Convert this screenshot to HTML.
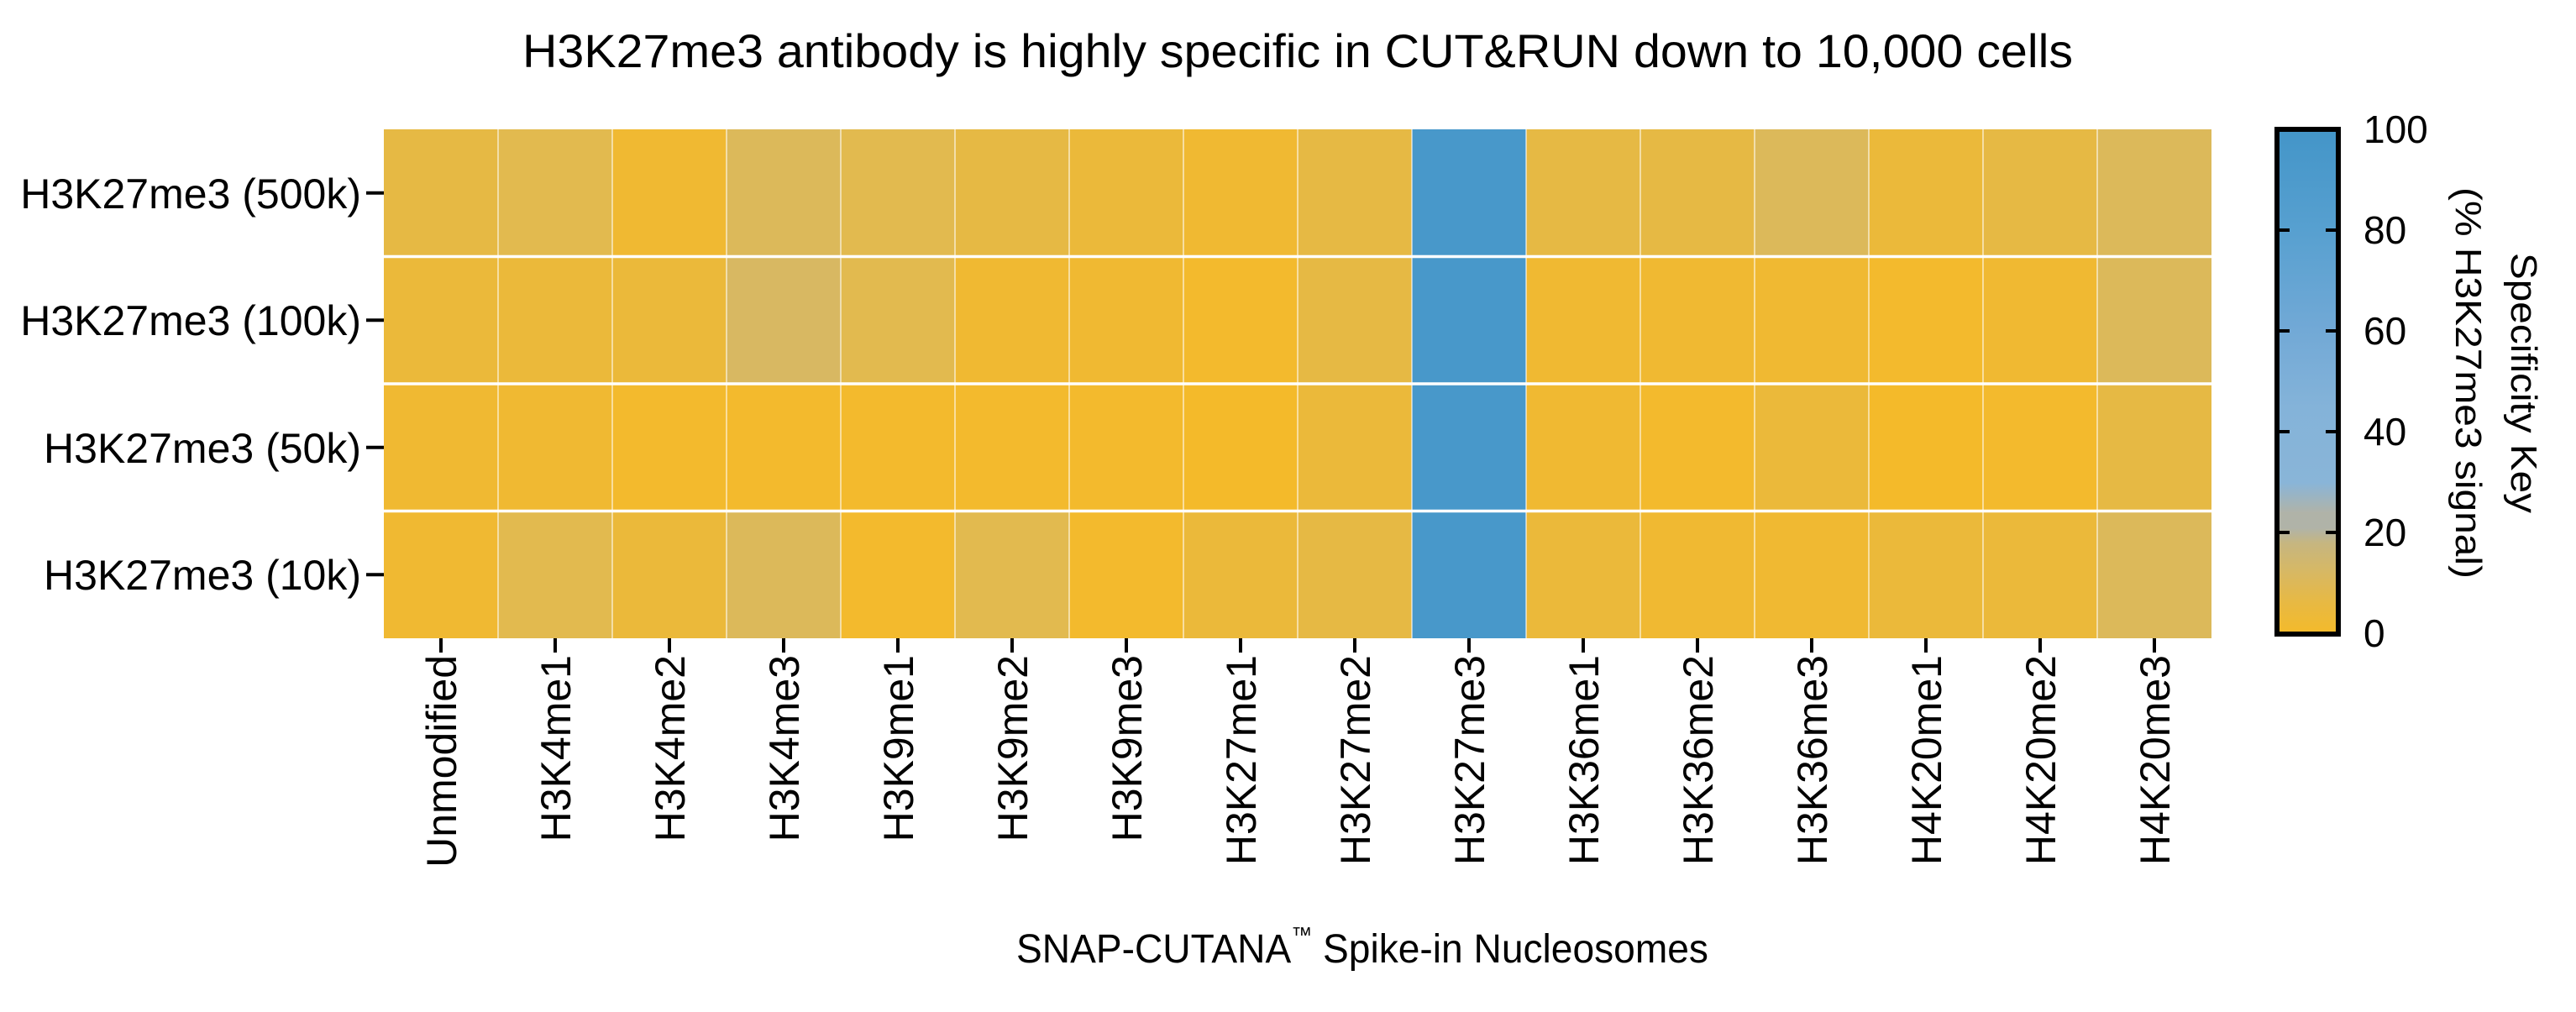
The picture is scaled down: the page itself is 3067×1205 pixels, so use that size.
<!DOCTYPE html>
<html><head><meta charset="utf-8"><style>html,body{margin:0;padding:0;background:#fff}svg{display:block}</style></head>
<body>
<svg width="3067" height="1205" viewBox="0 0 3067 1205" xmlns="http://www.w3.org/2000/svg" font-family="'Liberation Sans', sans-serif">
<defs>
<linearGradient id="cb" x1="0" y1="1" x2="0" y2="0">
<stop offset="0" stop-color="#f4ba2a"/>
<stop offset="0.06" stop-color="#e8b942"/>
<stop offset="0.12" stop-color="#d8b862"/>
<stop offset="0.18" stop-color="#c6b680"/>
<stop offset="0.21" stop-color="#b0b3a8"/>
<stop offset="0.24" stop-color="#b0b3a8"/>
<stop offset="0.30" stop-color="#89b5d8"/>
<stop offset="0.45" stop-color="#84b3d9"/>
<stop offset="0.60" stop-color="#72a9d6"/>
<stop offset="0.80" stop-color="#57a0d0"/>
<stop offset="1" stop-color="#4395c8"/>
</linearGradient>
</defs>
<text x="1545" y="80" font-size="56" text-anchor="middle" textLength="1846" lengthAdjust="spacingAndGlyphs">H3K27me3 antibody is highly specific in CUT&amp;RUN down to 10,000 cells</text>

<!-- row 0: DEBFEDCBDXDDFCDF -->
<g>
<rect x="457" y="154" width="136.5" height="152" fill="#e6b944"/>
<rect x="593" y="154" width="136.5" height="152" fill="#e2ba4f"/>
<rect x="729" y="154" width="136.5" height="152" fill="#f0b932"/>
<rect x="865" y="154" width="136.5" height="152" fill="#dcb95a"/>
<rect x="1001" y="154" width="136.5" height="152" fill="#e2ba4f"/>
<rect x="1137" y="154" width="136.5" height="152" fill="#e6b944"/>
<rect x="1273" y="154" width="136.5" height="152" fill="#ebb93a"/>
<rect x="1409" y="154" width="136.5" height="152" fill="#f0b932"/>
<rect x="1545" y="154" width="136.5" height="152" fill="#e6b944"/>
<rect x="1681" y="154" width="136.5" height="152" fill="#4898ca"/>
<rect x="1817" y="154" width="136.5" height="152" fill="#e6b944"/>
<rect x="1953" y="154" width="136.5" height="152" fill="#e6b944"/>
<rect x="2089" y="154" width="136.5" height="152" fill="#dcb95a"/>
<rect x="2225" y="154" width="136.5" height="152" fill="#ebb93a"/>
<rect x="2361" y="154" width="136.5" height="152" fill="#e6b944"/>
<rect x="2497" y="154" width="136" height="152" fill="#dcb95a"/>
</g>
<!-- row 1: CCCGEBBaDXBBBaBF -->
<g>
<rect x="457" y="305.5" width="136.5" height="152" fill="#ebb93a"/>
<rect x="593" y="305.5" width="136.5" height="152" fill="#ebb93a"/>
<rect x="729" y="305.5" width="136.5" height="152" fill="#ebb93a"/>
<rect x="865" y="305.5" width="136.5" height="152" fill="#d8b862"/>
<rect x="1001" y="305.5" width="136.5" height="152" fill="#e2ba4f"/>
<rect x="1137" y="305.5" width="136.5" height="152" fill="#f0b932"/>
<rect x="1273" y="305.5" width="136.5" height="152" fill="#f0b932"/>
<rect x="1409" y="305.5" width="136.5" height="152" fill="#f3ba2d"/>
<rect x="1545" y="305.5" width="136.5" height="152" fill="#e6b944"/>
<rect x="1681" y="305.5" width="136.5" height="152" fill="#4898ca"/>
<rect x="1817" y="305.5" width="136.5" height="152" fill="#f0b932"/>
<rect x="1953" y="305.5" width="136.5" height="152" fill="#f0b932"/>
<rect x="2089" y="305.5" width="136.5" height="152" fill="#f0b932"/>
<rect x="2225" y="305.5" width="136.5" height="152" fill="#f3ba2d"/>
<rect x="2361" y="305.5" width="136.5" height="152" fill="#f0b932"/>
<rect x="2497" y="305.5" width="136" height="152" fill="#dcb95a"/>
</g>
<!-- row 2: BBaaaaaACXBaCAaD -->
<g>
<rect x="457" y="457" width="136.5" height="152" fill="#f0b932"/>
<rect x="593" y="457" width="136.5" height="152" fill="#f0b932"/>
<rect x="729" y="457" width="136.5" height="152" fill="#f3ba2d"/>
<rect x="865" y="457" width="136.5" height="152" fill="#f3ba2d"/>
<rect x="1001" y="457" width="136.5" height="152" fill="#f3ba2d"/>
<rect x="1137" y="457" width="136.5" height="152" fill="#f3ba2d"/>
<rect x="1273" y="457" width="136.5" height="152" fill="#f3ba2d"/>
<rect x="1409" y="457" width="136.5" height="152" fill="#f4ba2a"/>
<rect x="1545" y="457" width="136.5" height="152" fill="#ebb93a"/>
<rect x="1681" y="457" width="136.5" height="152" fill="#4898ca"/>
<rect x="1817" y="457" width="136.5" height="152" fill="#f0b932"/>
<rect x="1953" y="457" width="136.5" height="152" fill="#f3ba2d"/>
<rect x="2089" y="457" width="136.5" height="152" fill="#ebb93a"/>
<rect x="2225" y="457" width="136.5" height="152" fill="#f4ba2a"/>
<rect x="2361" y="457" width="136.5" height="152" fill="#f3ba2d"/>
<rect x="2497" y="457" width="136" height="152" fill="#e6b944"/>
</g>
<!-- row 3: BECFaEaCDXCBBCCF -->
<g>
<rect x="457" y="608.5" width="136.5" height="151.5" fill="#f0b932"/>
<rect x="593" y="608.5" width="136.5" height="151.5" fill="#e2ba4f"/>
<rect x="729" y="608.5" width="136.5" height="151.5" fill="#ebb93a"/>
<rect x="865" y="608.5" width="136.5" height="151.5" fill="#dcb95a"/>
<rect x="1001" y="608.5" width="136.5" height="151.5" fill="#f3ba2d"/>
<rect x="1137" y="608.5" width="136.5" height="151.5" fill="#e2ba4f"/>
<rect x="1273" y="608.5" width="136.5" height="151.5" fill="#f3ba2d"/>
<rect x="1409" y="608.5" width="136.5" height="151.5" fill="#ebb93a"/>
<rect x="1545" y="608.5" width="136.5" height="151.5" fill="#e6b944"/>
<rect x="1681" y="608.5" width="136.5" height="151.5" fill="#4898ca"/>
<rect x="1817" y="608.5" width="136.5" height="151.5" fill="#ebb93a"/>
<rect x="1953" y="608.5" width="136.5" height="151.5" fill="#f0b932"/>
<rect x="2089" y="608.5" width="136.5" height="151.5" fill="#f0b932"/>
<rect x="2225" y="608.5" width="136.5" height="151.5" fill="#ebb93a"/>
<rect x="2361" y="608.5" width="136.5" height="151.5" fill="#ebb93a"/>
<rect x="2497" y="608.5" width="136" height="151.5" fill="#dcb95a"/>
</g>
<g stroke="#fff" stroke-opacity="0.7" stroke-width="1.5">
<line x1="593" y1="154" x2="593" y2="760"/><line x1="729" y1="154" x2="729" y2="760"/>
<line x1="865" y1="154" x2="865" y2="760"/><line x1="1001" y1="154" x2="1001" y2="760"/>
<line x1="1137" y1="154" x2="1137" y2="760"/><line x1="1273" y1="154" x2="1273" y2="760"/>
<line x1="1409" y1="154" x2="1409" y2="760"/><line x1="1545" y1="154" x2="1545" y2="760"/>
<line x1="1681" y1="154" x2="1681" y2="760"/><line x1="1817" y1="154" x2="1817" y2="760"/>
<line x1="1953" y1="154" x2="1953" y2="760"/><line x1="2089" y1="154" x2="2089" y2="760"/>
<line x1="2225" y1="154" x2="2225" y2="760"/><line x1="2361" y1="154" x2="2361" y2="760"/>
<line x1="2497" y1="154" x2="2497" y2="760"/>
</g>
<g stroke="#fff" stroke-width="3.5">
<line x1="457" y1="305.5" x2="2633" y2="305.5"/>
<line x1="457" y1="457" x2="2633" y2="457"/>
<line x1="457" y1="608.5" x2="2633" y2="608.5"/>
</g>

<!-- y axis -->
<g stroke="#000" stroke-width="4">
<line x1="436" y1="229.75" x2="457" y2="229.75"/>
<line x1="436" y1="381.25" x2="457" y2="381.25"/>
<line x1="436" y1="532.75" x2="457" y2="532.75"/>
<line x1="436" y1="684.25" x2="457" y2="684.25"/>
</g>
<g font-size="50" text-anchor="end">
<text x="430" y="248">H3K27me3 (500k)</text>
<text x="430" y="399">H3K27me3 (100k)</text>
<text x="430" y="551">H3K27me3 (50k)</text>
<text x="430" y="702">H3K27me3 (10k)</text>
</g>

<!-- x axis -->
<g stroke="#000" stroke-width="4">
<line x1="525" y1="760" x2="525" y2="777"/><line x1="661" y1="760" x2="661" y2="777"/>
<line x1="797" y1="760" x2="797" y2="777"/><line x1="933" y1="760" x2="933" y2="777"/>
<line x1="1069" y1="760" x2="1069" y2="777"/><line x1="1205" y1="760" x2="1205" y2="777"/>
<line x1="1341" y1="760" x2="1341" y2="777"/><line x1="1477" y1="760" x2="1477" y2="777"/>
<line x1="1613" y1="760" x2="1613" y2="777"/><line x1="1749" y1="760" x2="1749" y2="777"/>
<line x1="1885" y1="760" x2="1885" y2="777"/><line x1="2021" y1="760" x2="2021" y2="777"/>
<line x1="2157" y1="760" x2="2157" y2="777"/><line x1="2293" y1="760" x2="2293" y2="777"/>
<line x1="2429" y1="760" x2="2429" y2="777"/><line x1="2565" y1="760" x2="2565" y2="777"/>
</g>
<g font-size="50" text-anchor="end">
<text transform="translate(543,780) rotate(-90)">Unmodified</text>
<text transform="translate(679,780) rotate(-90)">H3K4me1</text>
<text transform="translate(815,780) rotate(-90)">H3K4me2</text>
<text transform="translate(951,780) rotate(-90)">H3K4me3</text>
<text transform="translate(1087,780) rotate(-90)">H3K9me1</text>
<text transform="translate(1223,780) rotate(-90)">H3K9me2</text>
<text transform="translate(1359,780) rotate(-90)">H3K9me3</text>
<text transform="translate(1495,780) rotate(-90)">H3K27me1</text>
<text transform="translate(1631,780) rotate(-90)">H3K27me2</text>
<text transform="translate(1767,780) rotate(-90)">H3K27me3</text>
<text transform="translate(1903,780) rotate(-90)">H3K36me1</text>
<text transform="translate(2039,780) rotate(-90)">H3K36me2</text>
<text transform="translate(2175,780) rotate(-90)">H3K36me3</text>
<text transform="translate(2311,780) rotate(-90)">H4K20me1</text>
<text transform="translate(2447,780) rotate(-90)">H4K20me2</text>
<text transform="translate(2583,780) rotate(-90)">H4K20me3</text>
</g>

<text x="1210" y="1146" font-size="48" textLength="824" lengthAdjust="spacingAndGlyphs">SNAP-CUTANA<tspan font-size="26" dy="-24">™</tspan><tspan dy="24"> Spike-in Nucleosomes</tspan></text>

<rect x="2711" y="154" width="73" height="601" fill="url(#cb)" stroke="#000" stroke-width="6"/>
<g stroke="#000" stroke-width="4">
<line x1="2714" y1="274" x2="2726" y2="274"/><line x1="2769" y1="274" x2="2781" y2="274"/>
<line x1="2714" y1="394" x2="2726" y2="394"/><line x1="2769" y1="394" x2="2781" y2="394"/>
<line x1="2714" y1="514" x2="2726" y2="514"/><line x1="2769" y1="514" x2="2781" y2="514"/>
<line x1="2714" y1="634" x2="2726" y2="634"/><line x1="2769" y1="634" x2="2781" y2="634"/>
</g>
<g font-size="46">
<text x="2814" y="170">100</text>
<text x="2814" y="290">80</text>
<text x="2814" y="410">60</text>
<text x="2814" y="530">40</text>
<text x="2814" y="650">20</text>
<text x="2814" y="770">0</text>
</g>
<text transform="translate(2990,456) rotate(90)" font-size="44" text-anchor="middle" textLength="310" lengthAdjust="spacingAndGlyphs">Specificity Key</text>
<text transform="translate(2924,456) rotate(90)" font-size="44" text-anchor="middle" textLength="466" lengthAdjust="spacingAndGlyphs">(% H3K27me3 signal)</text>
</svg>
</body></html>
